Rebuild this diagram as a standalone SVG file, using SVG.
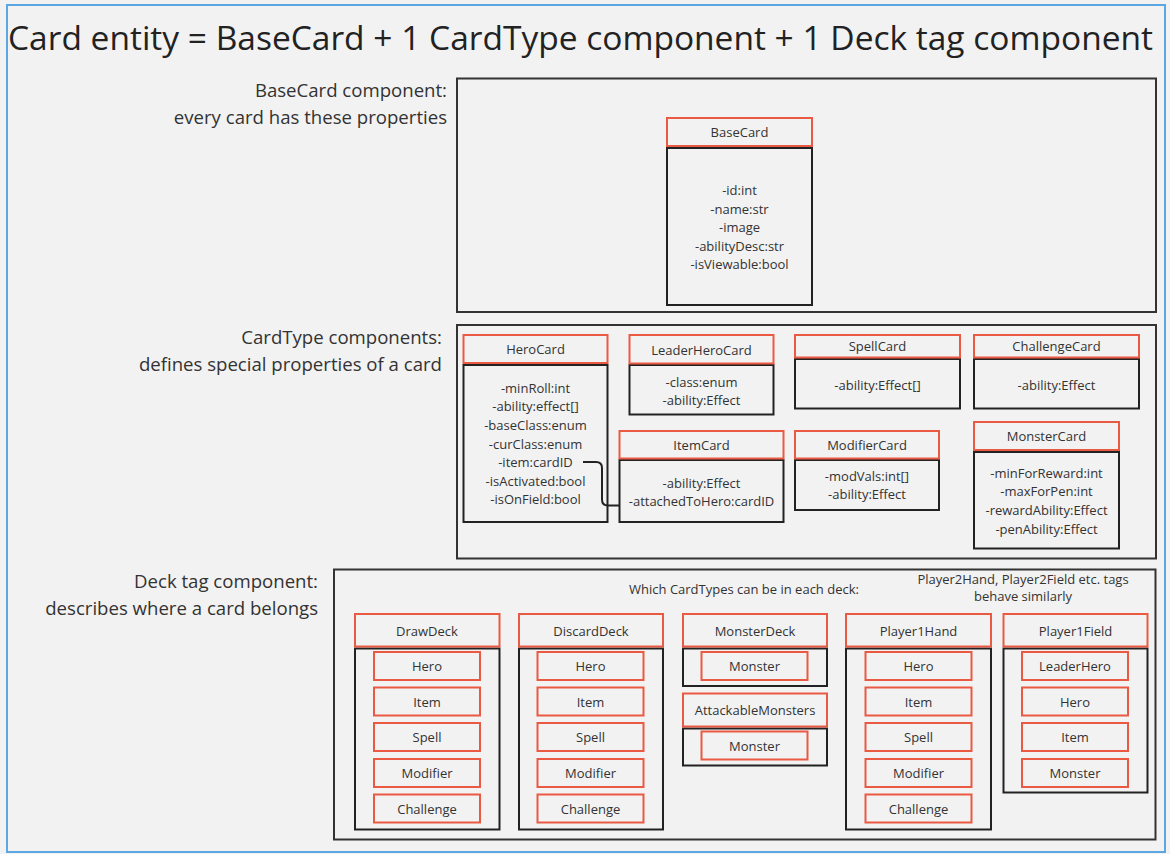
<svg xmlns="http://www.w3.org/2000/svg" width="1170" height="854" viewBox="0 0 1170 854">
<style>
.bg{fill:#f2f2f2}
.frame{fill:#f2f2f2;stroke:#5aa7e3;stroke-width:2}
.cont{fill:#f2f2f2;stroke:#333;stroke-width:2}
.hdr{fill:#f2f2f2;stroke:#ea5a42;stroke-width:2}
.body{fill:#f2f2f2;stroke:#222;stroke-width:2}
.t{font-family:'Open Sans','Noto Sans',sans-serif;font-size:13px;fill:#333;text-anchor:middle;dominant-baseline:central}
.lbl{font-family:'Open Sans','Noto Sans',sans-serif;font-size:18.6px;fill:#333;text-anchor:end}
.title{font-family:'Open Sans','Noto Sans',sans-serif;font-size:33px;fill:#222}
.conn{fill:none;stroke:#222;stroke-width:2}
</style>
<rect class="bg" x="0" y="0" width="1170" height="854"/>
<rect class="frame" x="7" y="5" width="1158" height="847"/>
<text class="title" x="8" y="50" textLength="1145" lengthAdjust="spacingAndGlyphs">Card entity = BaseCard + 1 CardType component + 1 Deck tag component</text>

<g id="labels">
<text class="lbl" x="447" y="97">BaseCard component:</text>
<text class="lbl" x="447" y="124">every card has these properties</text>
<text class="lbl" x="442" y="344">CardType components:</text>
<text class="lbl" x="442" y="370.5">defines special properties of a card</text>
<text class="lbl" x="318" y="588">Deck tag component:</text>
<text class="lbl" x="318" y="615">describes where a card belongs</text>
</g>

<g id="basecard-component">
<rect class="cont" x="457" y="78.5" width="699" height="233.5"/>
</g>
<g id="cardtype-components">
<rect class="cont" x="457" y="325" width="699" height="233.5"/>
</g>
<g id="deck-components">
<rect class="cont" x="334" y="569.5" width="821.5" height="270"/>
<text class="t" x="744" y="589">Which CardTypes can be in each deck:</text>
<text class="t" x="1023" y="578.5">Player2Hand, Player2Field etc. tags</text>
<text class="t" x="1023" y="596">behave similarly</text>
</g>

<g id="BaseCard">
<rect class="body" x="667" y="148" width="145" height="157"/>
<rect class="hdr" x="667" y="118" width="145" height="28"/>
<text class="t" x="739.5" y="132">BaseCard</text>
<text class="t" x="739.5" y="190">-id:int</text>
<text class="t" x="739.5" y="208.5">-name:str</text>
<text class="t" x="739.5" y="227">-image</text>
<text class="t" x="739.5" y="245.5">-abilityDesc:str</text>
<text class="t" x="739.5" y="264">-isViewable:bool</text>
</g>

<g id="HeroCard">
<rect class="body" x="463.5" y="365" width="144" height="157"/>
<rect class="hdr" x="463.5" y="335" width="144" height="28"/>
<text class="t" x="535.5" y="349">HeroCard</text>
<text class="t" x="535.5" y="387.5">-minRoll:int</text>
<text class="t" x="535.5" y="406">-ability:effect[]</text>
<text class="t" x="535.5" y="424.5">-baseClass:enum</text>
<text class="t" x="535.5" y="443.5">-curClass:enum</text>
<text class="t" x="535.5" y="462">-item:cardID</text>
<text class="t" x="535.5" y="480.5">-isActivated:bool</text>
<text class="t" x="535.5" y="499">-isOnField:bool</text>
</g>

<g id="LeaderHeroCard">
<rect class="body" x="629.5" y="365" width="144" height="49.5"/>
<rect class="hdr" x="629.5" y="335" width="144" height="28.5"/>
<text class="t" x="701.5" y="349.5">LeaderHeroCard</text>
<text class="t" x="701.5" y="381.5">-class:enum</text>
<text class="t" x="701.5" y="399.5">-ability:Effect</text>
</g>

<g id="ItemCard">
<rect class="body" x="619.5" y="460" width="164" height="62"/>
<rect class="hdr" x="619.5" y="431" width="164" height="27.5"/>
<text class="t" x="701.5" y="444.5">ItemCard</text>
<text class="t" x="701.5" y="482.5">-ability:Effect</text>
<text class="t" x="701.5" y="500.5">-attachedToHero:cardID</text>
</g>

<g id="SpellCard">
<rect class="body" x="795" y="359" width="165" height="49.5"/>
<rect class="hdr" x="795" y="335" width="165" height="22.5"/>
<text class="t" x="877.5" y="346">SpellCard</text>
<text class="t" x="877.5" y="384.5">-ability:Effect[]</text>
</g>

<g id="ChallengeCard">
<rect class="body" x="974" y="359" width="165" height="49.5"/>
<rect class="hdr" x="974" y="335" width="165" height="22.5"/>
<text class="t" x="1056.5" y="346">ChallengeCard</text>
<text class="t" x="1056.5" y="384.5">-ability:Effect</text>
</g>

<g id="ModifierCard">
<rect class="body" x="795" y="460" width="144" height="50"/>
<rect class="hdr" x="795" y="431" width="144" height="27.5"/>
<text class="t" x="867" y="444.5">ModifierCard</text>
<text class="t" x="867" y="476">-modVals:int[]</text>
<text class="t" x="867" y="494">-ability:Effect</text>
</g>

<g id="MonsterCard">
<rect class="body" x="974" y="452" width="145" height="96.5"/>
<rect class="hdr" x="974" y="422" width="145" height="28"/>
<text class="t" x="1046.5" y="435.5">MonsterCard</text>
<text class="t" x="1046.5" y="472.5">-minForReward:int</text>
<text class="t" x="1046.5" y="491">-maxForPen:int</text>
<text class="t" x="1046.5" y="509.5">-rewardAbility:Effect</text>
<text class="t" x="1046.5" y="528.5">-penAbility:Effect</text>
</g>

<g id="connectors">
<path class="conn" d="M583,462 L596,462 Q602,462 602,468 L602,499.5 Q602,505.5 608,505.5 L619.5,505.5"/>
</g>

<g id="DrawDeck">
<rect class="body" x="355" y="648.5" width="144.5" height="181"/>
<rect class="hdr" x="355" y="614" width="144.5" height="32.5"/>
<text class="t" x="427" y="630.5">DrawDeck</text>
<rect class="hdr" x="374" y="652" width="106" height="28"/><text class="t" x="427" y="666">Hero</text>
<rect class="hdr" x="374" y="687.5" width="106" height="28"/><text class="t" x="427" y="701.5">Item</text>
<rect class="hdr" x="374" y="723" width="106" height="28"/><text class="t" x="427" y="737">Spell</text>
<rect class="hdr" x="374" y="759" width="106" height="28"/><text class="t" x="427" y="773">Modifier</text>
<rect class="hdr" x="374" y="794.5" width="106" height="28"/><text class="t" x="427" y="808.5">Challenge</text>
</g>

<g id="DiscardDeck">
<rect class="body" x="519" y="648.5" width="144" height="181"/>
<rect class="hdr" x="519" y="614" width="144" height="32.5"/>
<text class="t" x="591" y="630.5">DiscardDeck</text>
<rect class="hdr" x="537.5" y="652" width="106" height="28"/><text class="t" x="590.5" y="666">Hero</text>
<rect class="hdr" x="537.5" y="687.5" width="106" height="28"/><text class="t" x="590.5" y="701.5">Item</text>
<rect class="hdr" x="537.5" y="723" width="106" height="28"/><text class="t" x="590.5" y="737">Spell</text>
<rect class="hdr" x="537.5" y="759" width="106" height="28"/><text class="t" x="590.5" y="773">Modifier</text>
<rect class="hdr" x="537.5" y="794.5" width="106" height="28"/><text class="t" x="590.5" y="808.5">Challenge</text>
</g>

<g id="MonsterDeck">
<rect class="body" x="683" y="648.5" width="144" height="37.5"/>
<rect class="hdr" x="683" y="614" width="144" height="32.5"/>
<text class="t" x="755" y="630.5">MonsterDeck</text>
<rect class="hdr" x="701.5" y="652" width="106" height="28"/><text class="t" x="754.5" y="666">Monster</text>
</g>

<g id="AttackableMonsters">
<rect class="body" x="683" y="728.5" width="144" height="37"/>
<rect class="hdr" x="683" y="693.5" width="144" height="33"/>
<text class="t" x="755" y="710">AttackableMonsters</text>
<rect class="hdr" x="701.5" y="731.5" width="106" height="28"/><text class="t" x="754.5" y="745.5">Monster</text>
</g>

<g id="Player1Hand">
<rect class="body" x="846" y="648.5" width="145" height="181"/>
<rect class="hdr" x="846" y="614" width="145" height="32.5"/>
<text class="t" x="918.5" y="630.5">Player1Hand</text>
<rect class="hdr" x="865.5" y="652" width="106" height="28"/><text class="t" x="918.5" y="666">Hero</text>
<rect class="hdr" x="865.5" y="687.5" width="106" height="28"/><text class="t" x="918.5" y="701.5">Item</text>
<rect class="hdr" x="865.5" y="723" width="106" height="28"/><text class="t" x="918.5" y="737">Spell</text>
<rect class="hdr" x="865.5" y="759" width="106" height="28"/><text class="t" x="918.5" y="773">Modifier</text>
<rect class="hdr" x="865.5" y="794.5" width="106" height="28"/><text class="t" x="918.5" y="808.5">Challenge</text>
</g>

<g id="Player1Field">
<rect class="body" x="1003.5" y="648.5" width="144" height="144"/>
<rect class="hdr" x="1003.5" y="614" width="144" height="32.5"/>
<text class="t" x="1075.5" y="630.5">Player1Field</text>
<rect class="hdr" x="1022" y="652" width="106" height="28"/><text class="t" x="1075" y="666">LeaderHero</text>
<rect class="hdr" x="1022" y="687.5" width="106" height="28"/><text class="t" x="1075" y="701.5">Hero</text>
<rect class="hdr" x="1022" y="723" width="106" height="28"/><text class="t" x="1075" y="737">Item</text>
<rect class="hdr" x="1022" y="759" width="106" height="28"/><text class="t" x="1075" y="773">Monster</text>
</g>
</svg>
